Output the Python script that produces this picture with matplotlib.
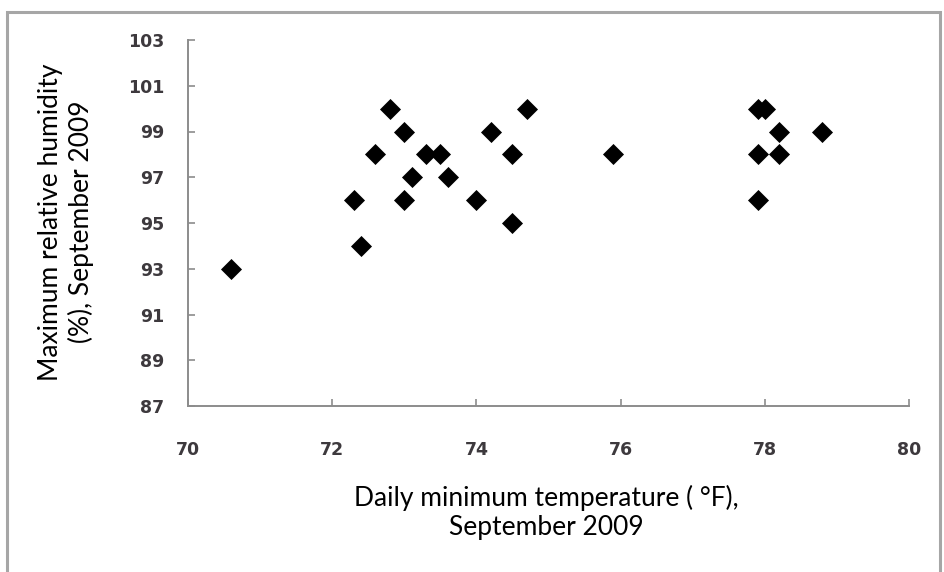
#!/usr/bin/env python3
# coding: utf-8

import matplotlib
matplotlib.use('Agg')
import matplotlib.pyplot as plt
from matplotlib.patches import Rectangle

# Daily min temperature (F) vs max relative humidity (%), September 2009
temp_f = [70.6, 72.3, 72.4, 72.6, 72.8, 73.0, 73.0, 73.1, 73.3, 73.5, 73.6, 74.0,
          74.2, 74.5, 74.5, 74.7, 75.9, 77.9, 78.0, 77.9, 77.9, 78.2, 78.2, 78.8]
humidity = [93, 96, 94, 98, 100, 99, 96, 97, 98, 98, 97, 96,
            99, 98, 95, 100, 98, 100, 100, 98, 96, 99, 98, 99]

x_ticks = [70, 72, 74, 76, 78, 80]
y_ticks = [87, 89, 91, 93, 95, 97, 99, 101, 103]

W, H = 944, 572


def main():
    fig = plt.figure(figsize=(W / 100, H / 100), dpi=100)
    fig.patch.set_facecolor('white')

    # outer chart frame (open at the bottom, as in the cropped source)
    frame = Rectangle((7 / W, -0.05), (940 - 7) / W, 1.05 - 12 / H,
                      transform=fig.transFigure, fill=False,
                      edgecolor='#a6a6a6', linewidth=2.2)
    fig.patches.append(frame)

    left, right, top, bottom = 188, 909, 40, 406
    ax = fig.add_axes([left / W, 1 - bottom / H, (right - left) / W, (bottom - top) / H])
    ax.set_facecolor('white')

    ax.scatter(temp_f, humidity, marker='D', s=115, color='black',
               linewidths=0, zorder=3, clip_on=False)

    ax.set_xlim(70, 80)
    ax.set_ylim(87, 103)
    ax.set_xticks(x_ticks)
    ax.set_yticks(y_ticks)

    for side in ('top', 'right'):
        ax.spines[side].set_visible(False)
    for side in ('left', 'bottom'):
        ax.spines[side].set_color('#8c8c8c')
        ax.spines[side].set_linewidth(1.4)

    ax.tick_params(direction='in', length=5, width=1.2, color='#8c8c8c',
                   labelcolor='#3d393d', labelsize=12.5)
    ax.tick_params(axis='x', pad=25)
    ax.tick_params(axis='y', pad=17)
    for lab in ax.get_xticklabels() + ax.get_yticklabels():
        lab.set_fontweight('bold')
        lab.set_fontfamily('DejaVu Sans')

    fig.text(546 / W, 1 - 512 / H,
             'Daily minimum temperature ( \u00b0F),\nSeptember 2009',
             ha='center', va='center', fontsize=19, family='Lato',
             linespacing=1.2, color='black')
    fig.text(66 / W, 1 - 222 / H,
             'Maximum relative humidity\n(%), September 2009',
             ha='center', va='center', rotation=90, fontsize=19,
             family='Lato', linespacing=1.25, color='black')

    fig.savefig('out.png', dpi=100)


if __name__ == '__main__':
    main()
